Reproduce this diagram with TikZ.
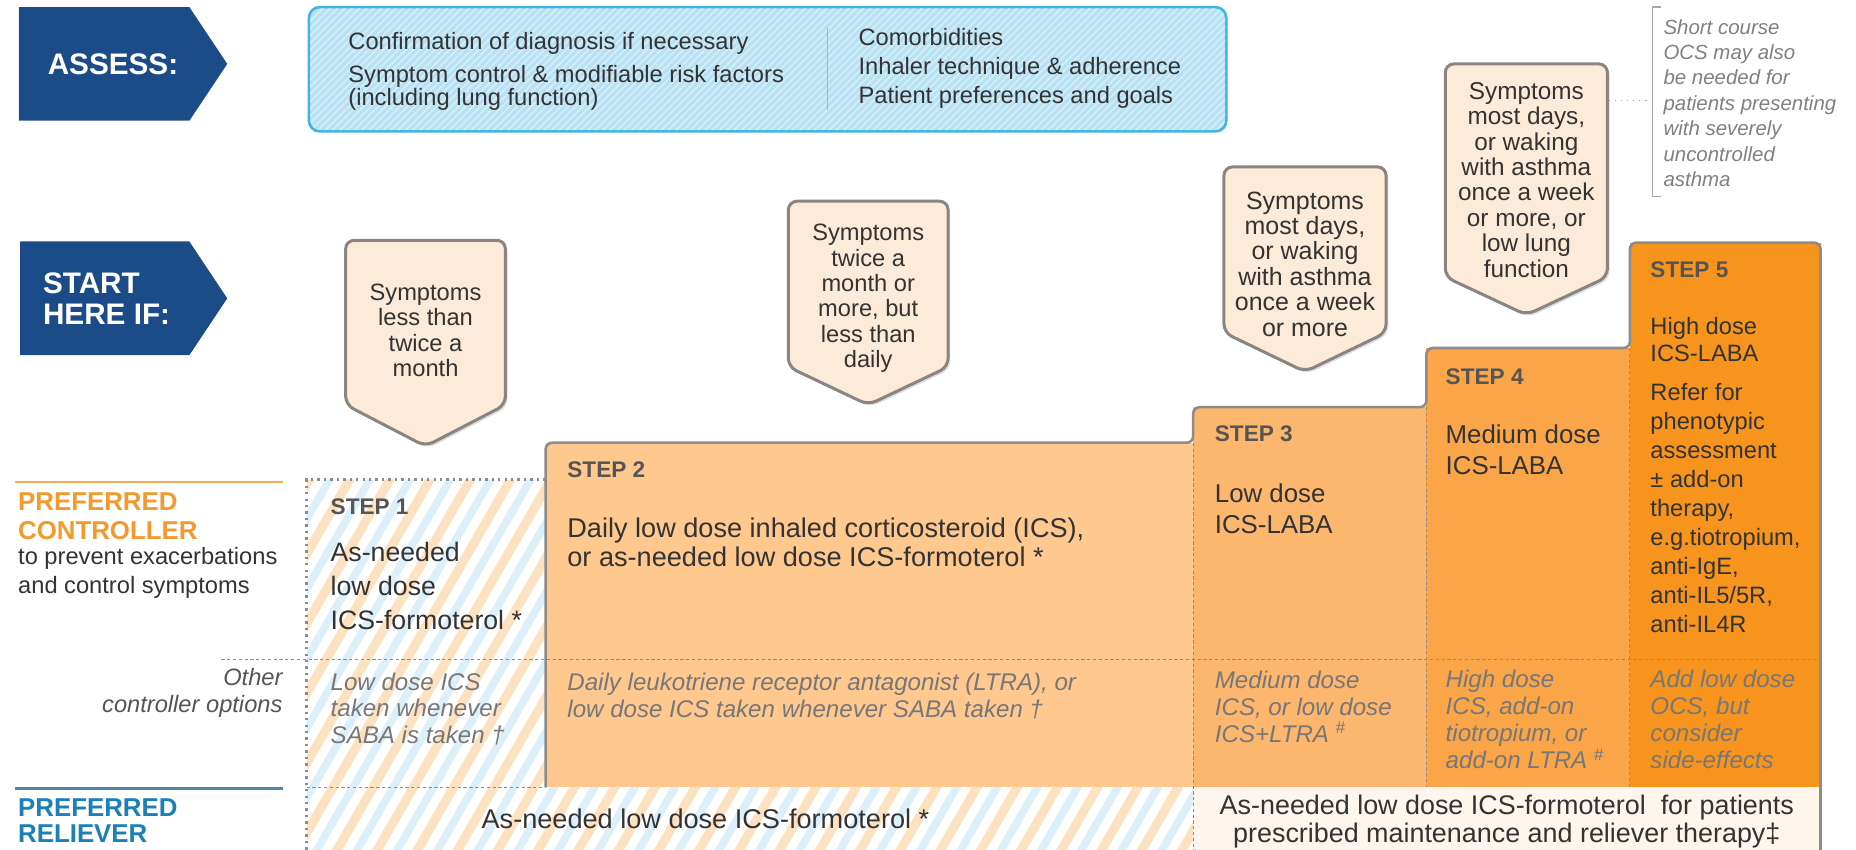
\documentclass[tikz,border=0pt]{standalone}
\usepackage{fontspec}
\setmainfont{Liberation Sans}
\usepackage{tikz}
\usetikzlibrary{calc, patterns.meta, shadows}

\definecolor{navy}{HTML}{1B4C88}
\definecolor{assessfill}{HTML}{B8E2F3}
\definecolor{assesshatch}{HTML}{D6EFF9}
\definecolor{assessline}{HTML}{3DB6E3}
\definecolor{callfill}{HTML}{FDEBD9}
\definecolor{callgrey}{HTML}{8A8580}
\definecolor{stripeorange}{HTML}{FDE2C2}
\definecolor{stripeblue}{HTML}{DDEFF9}
\definecolor{steptwo}{HTML}{FEC88F}
\definecolor{stepthree}{HTML}{FCB66D}
\definecolor{stepfour}{HTML}{FAA548}
\definecolor{stepfive}{HTML}{F7941E}
\definecolor{relfill}{HTML}{FEF5EC}
\definecolor{edgegrey}{HTML}{8C8C8C}
\definecolor{txt}{HTML}{333333}
\definecolor{lbl}{HTML}{555555}
\definecolor{opt}{HTML}{777777}
\definecolor{ctrlorange}{HTML}{F39A2E}
\definecolor{relblue}{HTML}{1C7FB6}
\definecolor{relline}{HTML}{4E87A8}

\begin{document}
\begin{tikzpicture}[x=0.55pt, y=-0.55pt,
  banner/.style={fill=navy},
  bantext/.style={anchor=west, align=left, inner sep=0, text=white, font=\fontsize{13.8}{14.3}\selectfont\bfseries},
  callout/.style={draw=callgrey, line width=1.4pt, fill=callfill, rounded corners=4pt,
    drop shadow={opacity=0.25, shadow xshift=1pt, shadow yshift=-1.2pt}},
  calltext/.style={align=center, inner sep=0, text=txt, font=\fontsize{11}{11.8}\selectfont},
  plain/.style={anchor=west, align=left, inner sep=0, text=txt, font=\fontsize{11}{10.5}\selectfont},
  steplbl/.style={anchor=west, inner sep=0, text=lbl, font=\fontsize{10.5}{12}\selectfont\bfseries},
  stepbody/.style={anchor=west, align=left, inner sep=0, text=txt, font=\fontsize{12}{14.3}\selectfont},
  option/.style={anchor=west, align=left, inner sep=0, text=opt, font=\fontsize{11.2}{12.5}\selectfont\itshape},
  divider/.style={draw=edgegrey, line width=0.5pt, dash pattern=on 1.5pt off 1.2pt},
  dotrule/.style={draw=edgegrey, line width=1.2pt, dash pattern=on 1.1pt off 1.9pt}]
\useasboundingbox (0,0) rectangle (1568,718);

% banners
\fill[banner] (16,6) -- (160,6) -- (192,54) -- (160,102) -- (16,102) -- cycle;
\fill[banner] (17,204) -- (160,204) -- (192,252) -- (160,300) -- (17,300) -- cycle;
\node[bantext] (assesslbl) at (40,54) {ASSESS:};
\node[bantext] (startlbl) at (36,252) {START\\HERE IF:};

% assess box
\draw[assessline, line width=1.2pt, fill=assessfill, rounded corners=5pt] (261,6) rectangle (1036,111);
\path[pattern={Lines[angle=45, distance=2.4pt, line width=0.7pt]}, pattern color=assesshatch, rounded corners=5pt] (262,7) rectangle (1035,110);
\draw[gray!60, line width=0.5pt] (699,24) -- (699,93);
\node[plain] (diag) at (294,37) {Confirmation of diagnosis if necessary};
\node[plain] (risk) at (294,74) {Symptom control \& modifiable risk factors\\(including lung function)};
\node[plain] (comorb) at (725,31) {Comorbidities};
\node[plain] (inhaler) at (725,58) {Inhaler technique \& adherence};
\node[plain] (prefs) at (725,82) {Patient preferences and goals};

% striped step 1 and reliever
\begin{scope}
\clip (259,405) -- (461,405) -- (461,665) -- (1008,665) -- (1008,718) -- (259,718) -- cycle;
\foreach \k in {0,...,32} {
  \draw[stripeorange, line width=4.2pt] (\k*34,740) -- ++(220,-381);
  \draw[stripeblue, line width=3.6pt] (\k*34+17,740) -- ++(220,-381);
}
\end{scope}

% steps 2-5
\fill[steptwo] (461,374) rectangle (1008,665);
\fill[stepthree] (1008,344) rectangle (1205,665);
\fill[stepfour] (1205,294) rectangle (1377,665);
\fill[stepfive] (1377,205) rectangle (1538,665);
\fill[relfill] (1008,665) rectangle (1538,718);
\draw[edgegrey, line width=1.2pt, rounded corners=3pt] (461,665) -- (461,374) -- (1008,374) -- (1008,344) -- (1205,344) -- (1205,294) -- (1377,294) -- (1377,205) -- (1538,205) -- (1538,718);
\draw[dotrule] (461,405) -- (259,405) -- (259,718);
\draw[divider] (187,557) -- (1538,557);
\draw[divider] (259,665) -- (461,665);
\draw[divider] (1008,374) -- (1008,718);
\draw[divider] (1205,344) -- (1205,665);
\draw[divider] (1377,294) -- (1377,665);

% left labels
\draw[ctrlorange!80!white, line width=1.1pt] (13,407) -- (239,407);
\draw[relline, line width=1.1pt] (13,666) -- (239,666);
\node[anchor=west, align=left, inner sep=0, text=ctrlorange, font=\fontsize{12}{13.2}\selectfont\bfseries] (ctrl) at (15,436) {PREFERRED\\CONTROLLER};
\node[anchor=west, align=left, inner sep=0, text=txt, font=\fontsize{11}{13.2}\selectfont] (ctrlnote) at (15,484) {to prevent exacerbations\\and control symptoms};
\node[anchor=east, align=right, inner sep=0, text=lbl, font=\fontsize{11}{12.5}\selectfont\itshape] (otherlbl) at (239,585) {Other\\controller options};
\node[anchor=west, align=left, inner sep=0, text=relblue, font=\fontsize{12}{12.1}\selectfont\bfseries] (rel) at (15,693) {PREFERRED\\RELIEVER};

% callouts
\draw[callout] (292,203) -- (427,203) -- (427,342) -- (359.5,377) -- (292,342) -- cycle;
\draw[callout] (666,170) -- (801,170) -- (801,310) -- (733.5,342) -- (666,310) -- cycle;
\draw[callout] (1034,141) -- (1171,141) -- (1171,281) -- (1102.5,314) -- (1034,281) -- cycle;
\draw[callout] (1221,54) -- (1358,54) -- (1358,234) -- (1289.5,266) -- (1221,234) -- cycle;
\node[calltext] (call1) at (359.5,279) {Symptoms\\less than\\twice a\\month};
\node[calltext] (call2) at (733.5,252) {Symptoms\\twice a\\month or\\more, but\\less than\\daily};
\node[calltext, font=\fontsize{11.6}{11.8}\selectfont] (call3) at (1102.5,223) {Symptoms\\most days,\\or waking\\with asthma\\once a week\\or more};
\node[calltext, font=\fontsize{11.3}{11.8}\selectfont] (call4) at (1289.5,152) {Symptoms\\most days,\\or waking\\with asthma\\once a week\\or more, or\\low lung\\function};

% note
\coordinate (c4edge) at (1359,85);
\coordinate (brk) at (1391,85);
\draw[gray!70, line width=0.8pt, dotted] (c4edge) -- (brk);
\draw[gray!70, line width=0.8pt] (1403,6) -- (1396,6) -- (1396,166) -- (1403,166);
\node[anchor=west, align=left, inner sep=0, text=gray, font=\fontsize{9.5}{11.8}\selectfont\itshape] (note) at (1405,87) {Short course\\OCS may also\\be needed for\\patients presenting\\with severely\\uncontrolled\\asthma};

% step texts
\node[steplbl] (s1) at (279,428) {STEP 1};
\node[steplbl] (s2) at (479,397) {STEP 2};
\node[steplbl] (s3) at (1026,366) {STEP 3};
\node[steplbl] (s4) at (1221,318) {STEP 4};
\node[steplbl] (s5) at (1394,228) {STEP 5};
\node[stepbody, font=\fontsize{12.4}{15.7}\selectfont] (s1body) at (279,495) {As-needed\\low dose\\ICS-formoterol *};
\node[stepbody, font=\fontsize{12.6}{13.4}\selectfont] (s2body) at (479,458) {Daily low dose inhaled corticosteroid (ICS),\\or as-needed low dose ICS-formoterol *};
\node[stepbody] (s3body) at (1026,430) {Low dose\\ICS-LABA};
\node[stepbody, font=\fontsize{12}{14.6}\selectfont] (s4body) at (1221,380) {Medium dose\\ICS-LABA};
\node[stepbody, font=\fontsize{11}{12.6}\selectfont] (s5body) at (1394,286.5) {High dose\\ICS-LABA};
\node[stepbody, font=\fontsize{11}{13.5}\selectfont] (s5refer) at (1394,429) {Refer for\\phenotypic\\assessment\\± add-on\\therapy,\\e.g.tiotropium,\\anti-IgE,\\anti-IL5/5R,\\anti-IL4R};
\node[option] (s1opt) at (279,599) {Low dose ICS\\taken whenever\\SABA is taken †};
\node[option] (s2opt) at (479,588) {Daily leukotriene receptor antagonist (LTRA), or\\low dose ICS taken whenever SABA taken †};
\node[option] (s3opt) at (1026,597) {Medium dose\\ICS, or low dose\\ICS+LTRA \textsuperscript{\#}};
\node[option] (s4opt) at (1221,608) {High dose\\ICS, add-on\\tiotropium, or\\add-on LTRA \textsuperscript{\#}};
\node[option] (s5opt) at (1394,608) {Add low dose\\OCS, but\\consider\\side-effects};

% relievers
\node[inner sep=0, text=txt, font=\fontsize{12.6}{13.2}\selectfont] (rel1) at (596,692) {As-needed low dose ICS-formoterol *};
\node[inner sep=0, align=center, text=txt, font=\fontsize{12.5}{13.2}\selectfont] (rel2) at (1273,694) {As-needed low dose ICS-formoterol \ for patients\\prescribed maintenance and reliever therapy‡};
\end{tikzpicture}
\end{document}
